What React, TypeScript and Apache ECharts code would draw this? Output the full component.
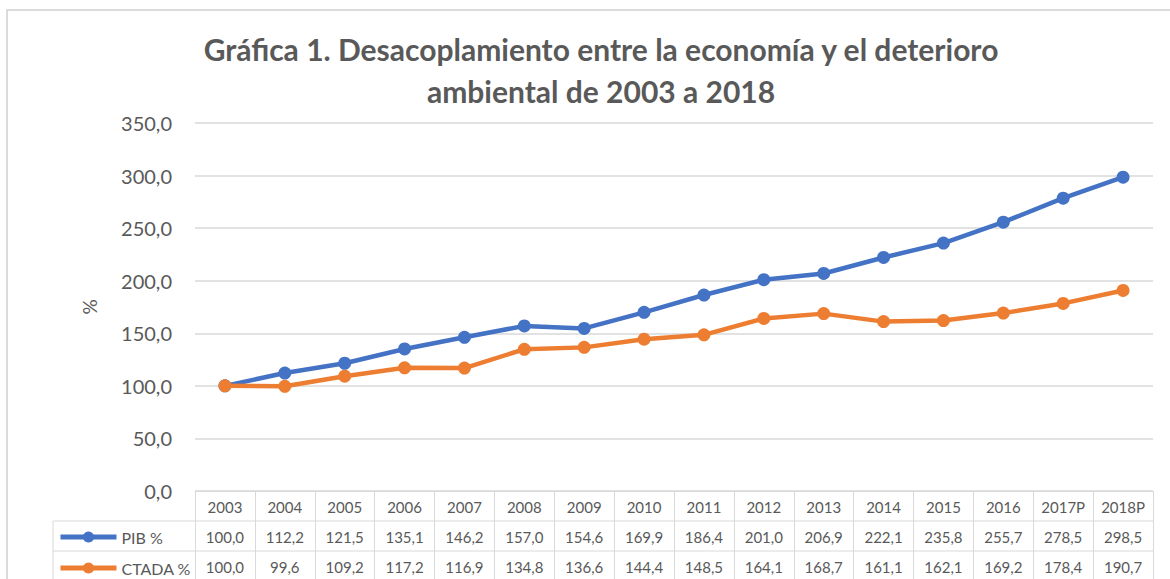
import React, { useEffect, useRef } from "react";
import * as echarts from "echarts";

const years = ["2003", "2004", "2005", "2006", "2007", "2008", "2009", "2010", "2011", "2012", "2013", "2014", "2015", "2016", "2017P", "2018P"];
const pib = [100.0, 112.2, 121.5, 135.1, 146.2, 157.0, 154.6, 169.9, 186.4, 201.0, 206.9, 222.1, 235.8, 255.7, 278.5, 298.5];
const ctada = [100.0, 99.6, 109.2, 117.2, 116.9, 134.8, 136.6, 144.4, 148.5, 164.1, 168.7, 161.1, 162.1, 169.2, 178.4, 190.7];
const seriesNames = ["PIB %", "CTADA %"];
const titleText = "Gráfica 1. Desacoplamiento entre la economía y el deterioro\nambiental de 2003 a 2018";
const yMin = 0;
const yMax = 350;
const yStep = 50;

const fmt = (v: number) => v.toFixed(1).replace(".", ",");

const FONT = "Lato";
const GRAY = "#595959";
const LINE = "#d9d9d9";
const BLUE = "#4472C4";
const ORANGE = "#ED7D31";

export default function App() {
  const ref = useRef<HTMLDivElement>(null);
  useEffect(() => {
    if (!ref.current) return;
    const chart = echarts.init(ref.current, undefined, { renderer: "svg" });
    const valueAxis = (data: string[], offset: number, withLine: boolean) => ({
      type: "category",
      data,
      gridIndex: 0,
      position: "bottom",
      offset,
      boundaryGap: true,
      axisLine: { show: withLine, lineStyle: { color: LINE, width: 1 } },
      axisTick: withLine
        ? { show: true, interval: 0, length: 92, lineStyle: { color: LINE, width: 1 } }
        : { show: false },
      axisLabel: { interval: 0, margin: 8, fontFamily: FONT, fontSize: 15, color: GRAY },
      splitLine: { show: false },
    });
    const legendItem = (name: string, top: number, color: string) => ({
      data: [name],
      orient: "horizontal",
      left: 58,
      top,
      padding: 0,
      itemWidth: 56,
      itemHeight: 14,
      itemGap: 4,
      lineStyle: { width: 5, color },
      itemStyle: { color },
      textStyle: { fontFamily: FONT, fontSize: 16, color: GRAY },
    });
    chart.setOption({
      animation: false,
      backgroundColor: "#ffffff",
      textStyle: { fontFamily: FONT },
      title: {
        text: titleText,
        left: 596,
        top: 23,
        textAlign: "center",
        textStyle: { fontFamily: FONT, fontSize: 30, fontWeight: "bold", color: GRAY, lineHeight: 42 },
      },
      legend: [
        legendItem(seriesNames[0], 529, BLUE),
        legendItem(seriesNames[1], 560, ORANGE),
      ],
      grid: { left: 195, right: 17, top: 123, height: 368, containLabel: false },
      xAxis: [
        valueAxis(years, 0, true),
        valueAxis(pib.map(fmt), 30, false),
        valueAxis(ctada.map(fmt), 60, false),
      ],
      yAxis: {
        type: "value",
        min: yMin,
        max: yMax,
        interval: yStep,
        name: "%",
        nameLocation: "middle",
        nameGap: 96,
        nameRotate: 90,
        nameTextStyle: { fontFamily: FONT, fontSize: 19, color: GRAY },
        axisLine: { show: false },
        axisTick: { show: false },
        axisLabel: { margin: 23, fontFamily: FONT, fontSize: 20, color: GRAY, formatter: (v: number) => fmt(v) },
        splitLine: { lineStyle: { color: LINE, width: 1.5 } },
      },
      graphic: [
        { type: "rect", shape: { x: 7, y: 10, width: 1200, height: 620 }, style: { fill: "none", stroke: "#d0d0d0", lineWidth: 1.5 }, silent: true },
        { type: "line", shape: { x1: 53, y1: 521, x2: 1153, y2: 521 }, style: { stroke: LINE, lineWidth: 1 }, silent: true },
        { type: "line", shape: { x1: 53, y1: 551, x2: 1153, y2: 551 }, style: { stroke: LINE, lineWidth: 1 }, silent: true },
        { type: "line", shape: { x1: 53, y1: 521, x2: 53, y2: 590 }, style: { stroke: LINE, lineWidth: 1 }, silent: true },
      ],
      series: [
        {
          name: seriesNames[0],
          type: "line",
          data: pib,
          xAxisIndex: 0,
          symbol: "circle",
          symbolSize: 13,
          itemStyle: { color: BLUE },
          lineStyle: { color: BLUE, width: 4.5 },
          z: 3,
        },
        {
          name: seriesNames[1],
          type: "line",
          data: ctada,
          xAxisIndex: 0,
          symbol: "circle",
          symbolSize: 13,
          itemStyle: { color: ORANGE },
          lineStyle: { color: ORANGE, width: 4.5 },
          z: 4,
        },
      ],
    });
    return () => chart.dispose();
  }, []);
  return <div ref={ref} style={{ position: "fixed", left: 0, top: 0, width: 1170, height: 579 }} />;
}
